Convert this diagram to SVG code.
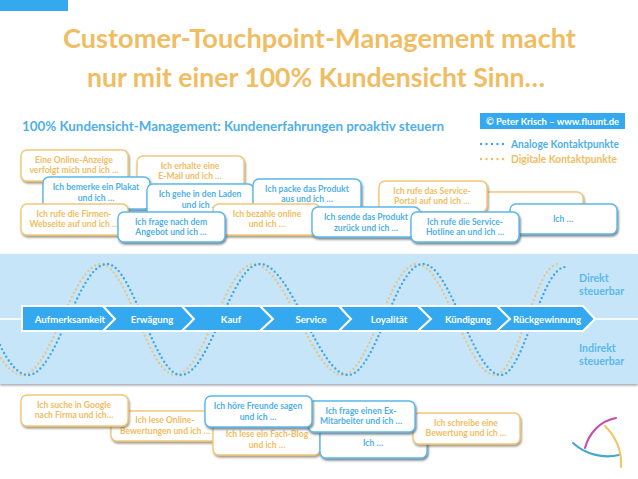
<svg xmlns="http://www.w3.org/2000/svg" width="638" height="479" viewBox="0 0 638 479">
<style>
text{font-family:Lato,"Liberation Sans",sans-serif;font-weight:700}
.b rect{fill:#fff;stroke-width:1.4}
.b text{font-size:8.6px;text-anchor:middle}
.o rect{stroke:#f2c879;filter:url(#so)}.o text{fill:#f0bd62}
.u rect{stroke:#5db9ea;filter:url(#sh)}.u text{fill:#4fb0e8}
.chev{fill:#34a9ef;stroke:#fff;stroke-width:2}
.chevt{fill:#fff;font-size:9.6px;text-anchor:middle}
.side{fill:#5cb9ec;font-size:10.6px}
.wo{fill:none;stroke:#e3c68c;stroke-width:2.4;stroke-linecap:round;stroke-dasharray:0 4.4}
.wb{fill:none;stroke:#44a6e0;stroke-width:2.4;stroke-linecap:round;stroke-dasharray:0 4.4}
</style>
<defs>
<filter id="sh" x="-10%" y="-20%" width="125%" height="150%"><feDropShadow dx="1" dy="1.8" stdDeviation="1" flood-color="#3b4a55" flood-opacity="0.7"/></filter>
<filter id="so" x="-10%" y="-20%" width="125%" height="150%"><feDropShadow dx="1" dy="1.8" stdDeviation="1" flood-color="#6b5a38" flood-opacity="0.65"/></filter>
<filter id="bs" x="-2%" y="-5%" width="104%" height="110%"><feDropShadow dx="0" dy="1.5" stdDeviation="1" flood-color="#667" flood-opacity="0.6"/></filter>
</defs>
<rect width="638" height="479" fill="#fff"/>
<rect x="0" y="0" width="68" height="11" fill="#34a9ef"/>
<g id="title" font-size="27.4" fill="#f0bd62">
<text x="63" y="48" textLength="513" lengthAdjust="spacingAndGlyphs">Customer-Touchpoint-Management macht</text>
<text x="87" y="87" textLength="458" lengthAdjust="spacingAndGlyphs">nur mit einer 100% Kundensicht Sinn…</text>
</g>
<text x="22" y="131" font-size="13.2" fill="#4fb0e8" textLength="422" lengthAdjust="spacingAndGlyphs">100% Kundensicht-Management: Kundenerfahrungen proaktiv steuern</text>
<g id="copyright"><rect x="480" y="113" width="145" height="16" fill="#34a9ef"/><text x="486" y="124.500" font-size="9.4" fill="#fff" textLength="133" lengthAdjust="spacingAndGlyphs">© Peter Krisch – www.fluunt.de</text></g>
<g id="legend" font-size="10.4">
<path d="M481 144H503.100" class="wb" style="stroke-dasharray:0 5.500"/><text x="511" y="147.500" fill="#4fb0e8" textLength="108" lengthAdjust="spacingAndGlyphs">Analoge Kontaktpunkte</text>
<path d="M481 159H503.100" class="wo" style="stroke-dasharray:0 5.500;stroke:#f0bd62"/><text x="511" y="162.500" fill="#f0bd62" textLength="106" lengthAdjust="spacingAndGlyphs">Digitale Kontaktpunkte</text>
</g>

<g id="band"><rect x="0" y="254" width="638" height="130" fill="#c6e5f9" filter="url(#bs)"/></g>
<g id="connectors">
<path class="wo" d="M-8 343C1 361 12 375 22 375C51 375 72 264 101 264C127 264 148 375 175 375C204 375 225 264 254 264C285 264 313 375 342 375C370 375 389 264 417 264C445 264 467 375 495 375C518 375 535 264 558 264"/>
<path class="wb" d="M0 345C8 362 18 375 28 375C57 375 78 264 107 264C133 264 154 375 181 375C210 375 231 264 260 264C291 264 319 375 348 375C376 375 395 264 423 264C451 264 473 375 501 375C524 375 541 266 566 267"/>
<path d="M0 319H22M595 319H638" stroke="#fff" stroke-width="1.6" fill="none"/>
</g>
<g id="chevron-aufmerksamkeit"><path class="chev" d="M22 306H103L115 319L103 331H22Z"/><text class="chevt" x="70" y="322.500">Aufmerksamkeit</text></g>
<g id="chevron-erwaegung"><path class="chev" d="M103 306H182L194 319L182 331H103L115 319Z"/><text class="chevt" x="152" y="322.500">Erwägung</text></g>
<g id="chevron-kauf"><path class="chev" d="M182 306H260L273 319L260 331H182L194 319Z"/><text class="chevt" x="231" y="322.500">Kauf</text></g>
<g id="chevron-service"><path class="chev" d="M260 306H339L351 319L339 331H260L273 319Z"/><text class="chevt" x="311" y="322.500">Service</text></g>
<g id="chevron-loyalitaet"><path class="chev" d="M339 306H418L431 319L418 331H339L351 319Z"/><text class="chevt" x="389" y="322.500">Loyalität</text></g>
<g id="chevron-kuendigung"><path class="chev" d="M418 306H497L510 319L497 331H418L431 319Z"/><text class="chevt" x="468" y="322.500">Kündigung</text></g>
<g id="chevron-rueckgewinnung"><path class="chev" d="M497 306H583L595 319L583 331H497L510 319Z"/><text class="chevt" x="547" y="322.500">Rückgewinnung</text></g>
<g id="label-direkt"><text x="579" y="282" class="side">Direkt</text><text x="579" y="295" class="side">steuerbar</text></g>
<g id="label-indirekt"><text x="579" y="352" class="side">Indirekt</text><text x="579" y="365" class="side">steuerbar</text></g>

<g id="n1" class="b o"><rect x="21" y="150" width="107" height="31" rx="6"/><text x="74" y="163">Eine Online-Anzeige</text><text x="74" y="173">verfolgt mich und ich …</text></g>
<g id="n2" class="b o"><rect x="137" y="156" width="107" height="32" rx="6"/><text x="190" y="169">Ich erhalte eine</text><text x="190" y="179">E-Mail und ich …</text></g>
<g id="n3" class="b u"><rect x="43" y="177" width="107" height="32" rx="6"/><text x="96" y="190">Ich bemerke ein Plakat</text><text x="96" y="201">und ich …</text></g>
<g id="n4" class="b u"><rect x="147" y="184" width="107" height="32" rx="6"/><text x="200" y="197">Ich gehe in den Laden</text><text x="200" y="208">und ich …</text></g>
<g id="n5" class="b u"><rect x="253" y="179" width="108" height="32" rx="6"/><text x="307" y="192">Ich packe das Produkt</text><text x="307" y="202">aus und ich …</text></g>
<g id="n6" class="b o"><rect x="21" y="204" width="107" height="31" rx="6"/><text x="74" y="217">Ich rufe die Firmen-</text><text x="74" y="227">Webseite auf und ich …</text></g>
<g id="n7" class="b o"><rect x="213" y="204" width="107" height="31" rx="6"/><text x="267" y="217">Ich bezahle online</text><text x="267" y="227">und ich …</text></g>
<g id="n8" class="b u"><rect x="118" y="212" width="107" height="30" rx="6"/><text x="171" y="225">Ich frage nach dem</text><text x="171" y="235">Angebot und ich …</text></g>
<g id="n10" class="b o"><rect x="475" y="192" width="108" height="32" rx="6"/></g>
<g id="n9" class="b o"><rect x="379" y="181" width="108" height="31" rx="6"/><text x="432" y="194">Ich rufe das Service-</text><text x="432" y="204">Portal auf und ich …</text></g>
<g id="n11" class="b u"><rect x="312" y="207" width="108" height="30" rx="6"/><text x="366" y="220">Ich sende das Produkt</text><text x="366" y="231">zurück und ich …</text></g>
<g id="n12" class="b u"><rect x="510" y="204" width="107" height="30" rx="6"/><text x="563" y="222">Ich …</text></g>
<g id="n13" class="b u"><rect x="411" y="212" width="108" height="30" rx="6"/><text x="465" y="225">Ich rufe die Service-</text><text x="465" y="235">Hotline an und ich …</text></g>

<g id="n14" class="b o"><rect x="111" y="411" width="108" height="30" rx="6"/><text x="165" y="423">Ich lese Online-</text><text x="165" y="434">Bewertungen und ich …</text></g>
<g id="n15" class="b o"><rect x="21" y="395" width="107" height="31" rx="6"/><text x="74" y="408">Ich suche in Google</text><text x="74" y="418">nach Firma und ich…</text></g>
<g id="n16" class="b o"><rect x="213" y="423" width="107" height="32" rx="6"/><text x="267" y="437">Ich lese ein Fach-Blog</text><text x="267" y="448">und ich …</text></g>
<g id="n17" class="b u"><rect x="320" y="428" width="107" height="30" rx="6"/><text x="373" y="446">Ich …</text></g>
<g id="n18" class="b o"><rect x="413" y="413" width="107" height="31" rx="6"/><text x="466" y="426">Ich schreibe eine</text><text x="466" y="436">Bewertung und ich …</text></g>
<g id="n19" class="b u"><rect x="308" y="401" width="107" height="31" rx="6"/><text x="361" y="414">Ich frage einen Ex-</text><text x="361" y="424">Mitarbeiter und ich …</text></g>
<g id="n20" class="b u"><rect x="205" y="396" width="107" height="31" rx="6"/><text x="258" y="409">Ich höre Freunde sagen</text><text x="258" y="420">und ich …</text></g>

<g id="logo" fill="none" stroke-width="2.1" stroke-linecap="round">
<path d="M573 443C585 454 603 459 619 455" stroke="#45a9cf"/>
<path d="M605 426C616 437 622 450 621 467" stroke="#edc95f"/>
<path d="M585 448C589 433 600 421 616 418" stroke="#c94aa8"/>
</g>
</svg>
